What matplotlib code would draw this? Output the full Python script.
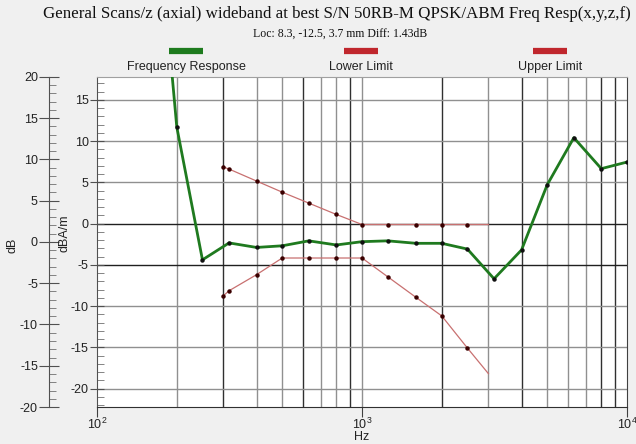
import matplotlib
matplotlib.use('Agg')
from matplotlib import pyplot as plt
from matplotlib.lines import Line2D
from matplotlib.ticker import MultipleLocator, FixedLocator, NullFormatter

# Frequency response (inner axis, dBA/m)
resp_hz = [180, 200, 250, 315, 400, 500, 630, 800, 1000, 1250, 1600, 2000, 2500, 3150, 4000, 5000, 6300, 8000, 10000]
resp_val = [28, 11.7, -4.4, -2.35, -2.9, -2.7, -2.1, -2.6, -2.2, -2.1, -2.4, -2.4, -3.1, -6.7, -3.2, 4.7, 10.4, 6.65, 7.45]

# limits
limit_hz = [300, 315, 400, 500, 630, 800, 1000, 1250, 1600, 2000, 2500, 3000]
upper_val = [6.85, 6.6, 5.15, 3.8, 2.47, 1.1, -0.12, -0.12, -0.12, -0.12, -0.12, -0.12]
lower_val = [-8.75, -8.15, -6.2, -4.18, -4.18, -4.18, -4.18, -6.45, -8.96, -11.2, -15.1, -18.2]

db_offset = 2.24  # dB = dBA/m + offset
dark_vlines = [300, 600, 900, 2000, 4000, 8000, 9000]
dark_hlines = [0, -5]

plt.rcParams['font.family'] = ['Liberation Sans', 'DejaVu Sans']
plt.rcParams['axes.unicode_minus'] = False
fig = plt.figure(figsize=(6.36, 4.44), dpi=100)
fig.patch.set_facecolor('#f0f0f0')
ax = fig.add_axes([97 / 636, 1 - 407 / 444, 530 / 636, 330 / 444])
ax.set_facecolor('white')

ax.set_xscale('log')
ax.set_xlim(100, 10000)
ax.set_ylim(-20 - db_offset, 20 - db_offset)

# grid
grid_x = [m * d for d in (100, 1000) for m in range(2, 10)] + [1000]
for gx in grid_x:
    ax.axvline(gx, color='#303030' if gx in dark_vlines else '#909090', lw=1.0, zorder=1)
for gy in range(-20, 16, 5):
    ax.axhline(gy, color='#202020' if gy in dark_hlines else '#909090', lw=1.0, zorder=1)

limit_marks = list(range(len(limit_hz) - 1))
ax.plot(limit_hz, upper_val, color='#c87070', lw=0.9, zorder=3,
        marker='o', ms=2.2, mfc='#3a0000', mec='#3a0000', markevery=limit_marks)
ax.plot(limit_hz, lower_val, color='#c87070', lw=0.9, zorder=3,
        marker='o', ms=2.2, mfc='#3a0000', mec='#3a0000', markevery=limit_marks)
ax.plot(resp_hz, resp_val, color='#1f7a1f', lw=2.0, zorder=4,
        marker='o', ms=2.2, mfc='#101010', mec='#101010')

# axes styling
ax.spines['top'].set_color('#a0a0a0')
ax.spines['right'].set_color('#404040')
ax.spines['left'].set_color('#505050')
ax.spines['bottom'].set_color('#303030')

ax.xaxis.set_major_locator(FixedLocator([100, 1000, 10000]))
ax.xaxis.set_minor_formatter(NullFormatter())
ax.tick_params(axis='x', which='major', direction='out', length=7, color='#404040',
               labelsize=9, labelcolor='#222222', pad=0)
ax.tick_params(axis='x', which='minor', length=0)
fig.text(362 / 636, 1 - 437 / 444, 'Hz', ha='center', va='center', fontsize=9, color='#222222')

ax.yaxis.set_major_locator(MultipleLocator(5))
ax.yaxis.set_minor_locator(MultipleLocator(1))
ax.tick_params(axis='y', which='major', direction='inout', length=10, color='#505050',
               labelsize=9, labelcolor='#222222', pad=1)
ax.tick_params(axis='y', which='minor', direction='in', length=5, color='#707070')

# outer dB axis
sec = ax.secondary_yaxis(-48 / 530, functions=(lambda v: v + db_offset, lambda v: v - db_offset))
sec.yaxis.set_major_locator(MultipleLocator(5))
sec.yaxis.set_minor_locator(MultipleLocator(1))
sec.spines['left'].set_color('#505050')
sec.tick_params(which='major', direction='inout', length=14, color='#505050',
                labelsize=9, labelcolor='#222222', pad=1)
sec.tick_params(which='minor', direction='in', length=5, color='#707070')

fig.text(12 / 636, 1 - 245 / 444, 'dB', rotation=90, ha='center', va='center', fontsize=9, color='#222222')
fig.text(64 / 636, 1 - 233 / 444, 'dBA/m', rotation=90, ha='center', va='center', fontsize=9, color='#222222')

# titles
fig.text(337 / 636, 1 - 14 / 444,
         'General Scans/z (axial) wideband at best S/N 50RB-M QPSK/ABM Freq Resp(x,y,z,f)',
         ha='center', va='center', fontsize=12.2, family='Liberation Serif', color='#111111')
fig.text(340 / 636, 1 - 34 / 444, 'Loc: 8.3, -12.5, 3.7 mm Diff: 1.43dB',
         ha='center', va='center', fontsize=8.5, family='Liberation Serif', color='#111111')

# legend
legend_items = [('Frequency Response', '#1e7b1e', 186), ('Lower Limit', '#c0272d', 361), ('Upper Limit', '#c0272d', 550)]
for name, col, cx in legend_items:
    fig.add_artist(Line2D([(cx - 17) / 636, (cx + 17) / 636], [1 - 51 / 444] * 2, color=col, lw=4.5,
                          solid_capstyle='butt'))
    fig.text(cx / 636, 1 - 67 / 444, name, ha='center', va='center', fontsize=9, color='#222222')

plt.savefig('out.png', dpi=100, facecolor=fig.get_facecolor())
